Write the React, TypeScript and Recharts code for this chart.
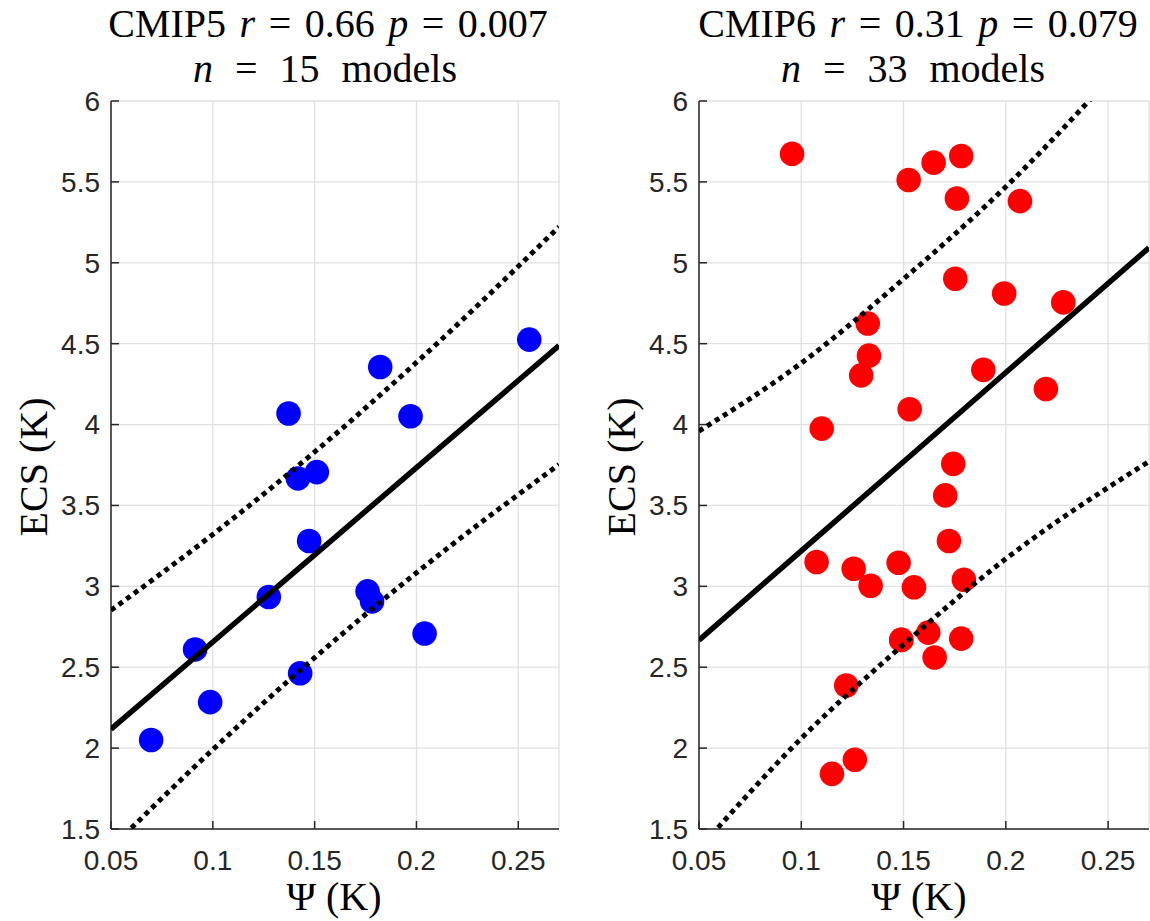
import React from 'react';
import { ComposedChart, Scatter, Line, XAxis, YAxis, CartesianGrid } from 'recharts';

const xTicks = [0.05, 0.1, 0.15, 0.2, 0.25];
const yTicks = [1.5, 2, 2.5, 3, 3.5, 4, 4.5, 5, 5.5, 6];

// CMIP5 models (Psi, ECS)
const cmip5Psi = [0.0697, 0.0913, 0.0987, 0.1275, 0.1372, 0.1418, 0.1511, 0.1473, 0.1429, 0.1822, 0.1971, 0.176, 0.1782, 0.204, 0.2554];
const cmip5Ecs = [2.05, 2.61, 2.284, 2.934, 4.068, 3.667, 3.706, 3.28, 2.463, 4.356, 4.051, 2.969, 2.907, 2.708, 4.525];

// CMIP6 models (Psi, ECS)
const cmip6Psi = [0.0955, 0.1647, 0.1782, 0.1525, 0.1761, 0.2069, 0.1753, 0.1992, 0.2281, 0.1325, 0.1331, 0.1293, 0.189, 0.2196, 0.153, 0.11, 0.1743, 0.1704, 0.1722, 0.1075, 0.1256, 0.1476, 0.1339, 0.1551, 0.1795, 0.1489, 0.1621, 0.1782, 0.1652, 0.122, 0.1262, 0.115, 0.1489];
const cmip6Ecs = [5.673, 5.619, 5.66, 5.512, 5.397, 5.381, 4.901, 4.81, 4.755, 4.625, 4.426, 4.304, 4.338, 4.22, 4.095, 3.975, 3.757, 3.562, 3.28, 3.15, 3.109, 3.146, 3.004, 2.994, 3.041, 2.669, 2.714, 2.677, 2.56, 2.387, 1.928, 1.841, 2.669];

// regression line and prediction band
const bandX = [0.05, 0.1, 0.15, 0.2, 0.27];
const cmip5Fit = [2.117, 2.656, 3.195, 3.734, 4.488];
const cmip5Upper = [2.852, 3.321, 3.831, 4.384, 5.222];
const cmip5Lower = [1.382, 1.991, 2.559, 3.084, 3.753];
const cmip6Fit = [2.667, 3.219, 3.77, 4.322, 5.093];
const cmip6Upper = [3.96, 4.38, 4.9, 5.47, 6.41];
const cmip6Lower = [1.377, 2.06, 2.64, 3.17, 3.772];

const AX = '#262626';
const tickFont = { fill: AX, fontSize: 28, fontFamily: 'Liberation Sans, Arial, sans-serif' };

type PanelProps = {
  psi: number[];
  ecs: number[];
  color: string;
  fit: number[];
  upper: number[];
  lower: number[];
  marginLeft: number;
  marginRight: number;
};

function Panel({ psi, ecs, color, fit, upper, lower, marginLeft, marginRight }: PanelProps) {
  const pts = psi.map((x, i) => ({ x, y: ecs[i] }));
  const mk = (arr: number[]) => bandX.map((x, i) => ({ x, y: arr[i] }));
  return (
    <ComposedChart
      width={575}
      height={921}
      margin={{ top: 101, bottom: 32, left: marginLeft, right: marginRight }}
    >
      <CartesianGrid stroke="#e0e0e0" strokeWidth={1.3} />
      <XAxis
        type="number"
        dataKey="x"
        domain={[0.05, 0.27]}
        ticks={xTicks}
        interval={0}
        allowDataOverflow
        height={60}
        tickSize={-8}
        tickMargin={29}
        tick={tickFont}
        axisLine={{ stroke: AX, strokeWidth: 1.5 }}
        tickLine={{ stroke: AX, strokeWidth: 1.5 }}
      />
      <YAxis
        type="number"
        dataKey="y"
        domain={[1.5, 6]}
        ticks={yTicks}
        interval={0}
        allowDataOverflow
        width={60}
        tickSize={-8}
        tickMargin={19}
        tick={tickFont}
        axisLine={{ stroke: AX, strokeWidth: 1.5 }}
        tickLine={{ stroke: AX, strokeWidth: 1.5 }}
      />
      <Scatter
        data={pts}
        isAnimationActive={false}
        shape={(p: any) => <circle cx={p.cx} cy={p.cy} r={12.3} fill={color} />}
      />
      <Line data={mk(upper)} dataKey="y" type="monotone" stroke="#000" strokeWidth={5} strokeDasharray="5 4.5" dot={false} activeDot={false} isAnimationActive={false} zIndex={700} />
      <Line data={mk(lower)} dataKey="y" type="monotone" stroke="#000" strokeWidth={5} strokeDasharray="5 4.5" dot={false} activeDot={false} isAnimationActive={false} zIndex={700} />
      <Line data={mk(fit)} dataKey="y" type="linear" stroke="#000" strokeWidth={5.5} dot={false} activeDot={false} isAnimationActive={false} zIndex={700} />
    </ComposedChart>
  );
}

const serif = 'Liberation Serif, Times New Roman, serif';
const G = 13.5; // math spacing around symbols, title line 1
const G2 = 22; // spacing, title line 2

function Title1({ x, name, r, p }: { x: number; name: string; r: string; p: string }) {
  return (
    <text x={x} y={37} fontSize={40} textAnchor="middle">
      <tspan>{name}</tspan>
      <tspan dx={G} fontStyle="italic">r</tspan>
      <tspan dx={G}>=</tspan>
      <tspan dx={G}>{r}</tspan>
      <tspan dx={G} fontStyle="italic">p</tspan>
      <tspan dx={G}>=</tspan>
      <tspan dx={G}>{p}</tspan>
    </text>
  );
}

function Title2({ x, n }: { x: number; n: string }) {
  return (
    <text x={x} y={82} fontSize={40} textAnchor="middle">
      <tspan fontStyle="italic">n</tspan>
      <tspan dx={G2}>=</tspan>
      <tspan dx={G2}>{n}</tspan>
      <tspan dx={G2}>models</tspan>
    </text>
  );
}

export default function App() {
  return (
    <div style={{ position: 'absolute', left: 0, top: 0, width: 1150, height: 921, background: '#fff' }}>
      <div style={{ position: 'absolute', left: 0, top: 0 }}>
        <Panel psi={cmip5Psi} ecs={cmip5Ecs} color="#0000ff" fit={cmip5Fit} upper={cmip5Upper} lower={cmip5Lower} marginLeft={51} marginRight={16} />
      </div>
      <div style={{ position: 'absolute', left: 575, top: 0 }}>
        <Panel psi={cmip6Psi} ecs={cmip6Ecs} color="#ff0000" fit={cmip6Fit} upper={cmip6Upper} lower={cmip6Lower} marginLeft={64} marginRight={1} />
      </div>
      <svg width={1150} height={921} style={{ position: 'absolute', left: 0, top: 0, pointerEvents: 'none' }}>
        <g fontFamily={serif} fill="#000">
          <Title1 x={328} name="CMIP5" r="0.66" p="0.007" />
          <Title2 x={325} n="15" />
          <Title1 x={918} name="CMIP6" r="0.31" p="0.079" />
          <Title2 x={913} n="33" />
          <text x={334} y={910} fontSize={40} textAnchor="middle">Ψ (K)</text>
          <text x={919} y={910} fontSize={40} textAnchor="middle">Ψ (K)</text>
          <text transform="translate(47,467) rotate(-90)" fontSize={40} textAnchor="middle">ECS (K)</text>
          <text transform="translate(635,467) rotate(-90)" fontSize={40} textAnchor="middle">ECS (K)</text>
        </g>
      </svg>
    </div>
  );
}
